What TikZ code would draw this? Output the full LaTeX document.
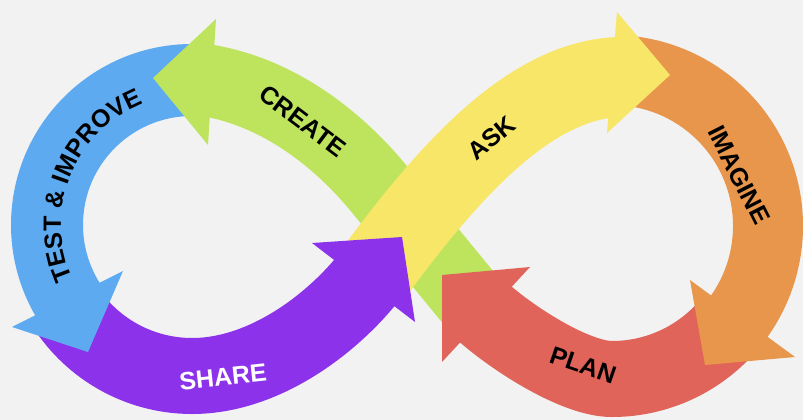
\documentclass[tikz,border=0pt]{standalone}
\usepackage{fontspec}
\setmainfont{Liberation Sans}
\usetikzlibrary{decorations.text}
\definecolor{bggray}{RGB}{242,242,242}
\definecolor{crgreen}{RGB}{190,227,92}
\definecolor{tiblue}{RGB}{94,170,240}
\definecolor{shpurple}{RGB}{140,50,235}
\definecolor{askyellow}{RGB}{248,230,105}
\definecolor{imorange}{RGB}{232,150,75}
\definecolor{plred}{RGB}{225,100,90}

\begin{document}
\begin{tikzpicture}[x=1pt,y=-1pt,
	word/.style={font=\bfseries\fontsize{25}{29}\selectfont,inner sep=0pt}]
	
	\fill[bggray](0,0) rectangle (803,420);
	\useasboundingbox (0,0) rectangle (803,420);
	
	\draw[shpurple][line width=76pt](192,225)++(150:151) arc[start angle=150,end angle=90,radius=151] .. controls (262,376) and (328,327) .. (366,281);
	\draw[tiblue][line width=72pt](192,225)++(272:145) arc[start angle=272,end angle=145,radius=145];
	\draw[plred][line width=76pt](612,226)++(38:153) arc[start angle=38,end angle=90,radius=153] .. controls (575,379) and (512,338) .. (483,312);
	\draw[imorange][line width=70pt](612,226)++(-85:156) arc[start angle=-85,end angle=37,radius=156];
	\draw[crgreen][line width=72pt](205,80) .. controls (280,92) and (340,141) .. (380,190) -- (476,307);
	\draw[askyellow][line width=80pt](370,278) .. controls (447,173) and (528,81) .. (618,77);
	
	\fill[crgreen](216,19)--(153,78)--(208,145)--cycle;
	\fill[tiblue](123,271)--(88,352)--(12,327)--cycle;
	\fill[shpurple](312,243)--(402,237)--(415,322)--cycle;
	\fill[askyellow](617,12)--(670,75)--(607,133)--cycle;
	\fill[imorange](690,280)--(705,365)--(795,357)--cycle;
	\fill[plred](530,267)--(442,275)--(442,362)--cycle;
	
	\node[word,rotate=-37] (create) at (303,121) {CREATE};
	\node[word,rotate=39] (ask) at (492,138) {ASK};
	\node[word,rotate=-63] (imagine) at (739,175) {IMAGINE};
	\node[word,rotate=-19] (plan) at (583,365) {PLAN};
	\node[word,white,rotate=6] (share) at (223,377) {SHARE};
	\path[decorate,decoration={text along path,text align=center,
		text={|\bfseries\fontsize{25}{29}\selectfont|TEST {\&} IMPROVE}}]
		(192,225)++(152:131) arc[start angle=152,end angle=252,radius=131];
\end{tikzpicture}
\end{document}
